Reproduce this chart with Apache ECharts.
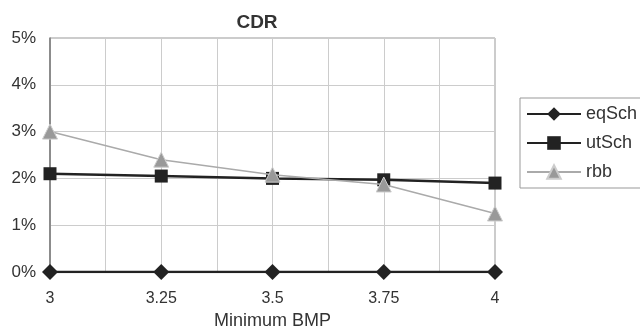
<!DOCTYPE html>
<html>
<head>
<meta charset="UTF-8">
<script src="https://cdn.jsdelivr.net/npm/echarts@6/dist/echarts.min.js"></script>
<style>
  html, body { margin: 0; padding: 0; background: #fff; }
  #chart { width: 640px; height: 329px; }
</style>
</head>
<body>
<div id="chart"></div>
<script>
// data (percent)
const bmp = [3, 3.25, 3.5, 3.75, 4];
const eqSch = [0, 0, 0, 0, 0];
const utSch = [2.1, 2.05, 2.0, 1.97, 1.9];
const rbb = [3.0, 2.4, 2.08, 1.87, 1.25];

const pairs = (ys) => bmp.map((x, i) => [x, ys[i]]);
const font = 'Liberation Sans, Arial, sans-serif';

const chart = echarts.init(document.getElementById('chart'));
chart.setOption({
  animation: false,
  textStyle: { fontFamily: font },
  title: {
    text: 'CDR',
    left: 252,
    top: 8,
    textAlign: 'center',
    textStyle: { fontSize: 19, fontWeight: 'bold', color: '#333', fontFamily: font }
  },
  grid: {
    left: 50, right: 145, top: 38, bottom: 57,
    outerBoundsMode: 'none',
    containLabel: false,
    show: true, borderColor: '#999', borderWidth: 1
  },
  legend: {
    orient: 'vertical',
    left: 520,
    top: 98,
    padding: [7, 40, 7, 6],
    itemGap: 11,
    itemWidth: 54,
    itemHeight: 17,
    borderColor: '#999',
    borderWidth: 1,
    textStyle: { fontSize: 18, color: '#333', fontFamily: font },
    data: ['eqSch', 'utSch', 'rbb']
  },
  xAxis: {
    type: 'value',
    min: 3, max: 4, interval: 0.125,
    name: 'Minimum BMP',
    nameLocation: 'middle',
    nameGap: 40,
    nameTextStyle: { fontSize: 18, color: '#333', fontFamily: font },
    axisLine: { show: false },
    axisTick: { show: false },
    axisLabel: {
      fontSize: 16, color: '#333', margin: 19,
      formatter: (v) => (Math.abs(v * 4 - Math.round(v * 4)) < 1e-6 ? String(v) : '')
    },
    splitLine: { show: true, lineStyle: { color: '#ccc', width: 1 } }
  },
  yAxis: {
    type: 'value',
    min: 0, max: 5, interval: 1,
    axisLine: { show: true, lineStyle: { color: '#777', width: 1.5 } },
    axisTick: { show: false },
    axisLabel: { fontSize: 17, color: '#333', margin: 14, formatter: '{value}%' },
    splitLine: { show: true, lineStyle: { color: '#ccc', width: 1 } }
  },
  series: [
    {
      name: 'eqSch', type: 'line', data: pairs(eqSch),
      symbol: 'diamond', symbolSize: 16,
      lineStyle: { color: '#222', width: 2.5 },
      itemStyle: { color: '#222' },
      z: 3
    },
    {
      name: 'utSch', type: 'line', data: pairs(utSch),
      symbol: 'rect', symbolSize: 13,
      lineStyle: { color: '#222', width: 2.5 },
      itemStyle: { color: '#222' },
      z: 2
    },
    {
      name: 'rbb', type: 'line', data: pairs(rbb),
      symbol: 'triangle', symbolSize: 15,
      lineStyle: { color: '#aaa', width: 1.5 },
      itemStyle: { color: '#999', borderColor: '#ccc', borderWidth: 1 },
      z: 4
    }
  ]
});
</script>
</body>
</html>
